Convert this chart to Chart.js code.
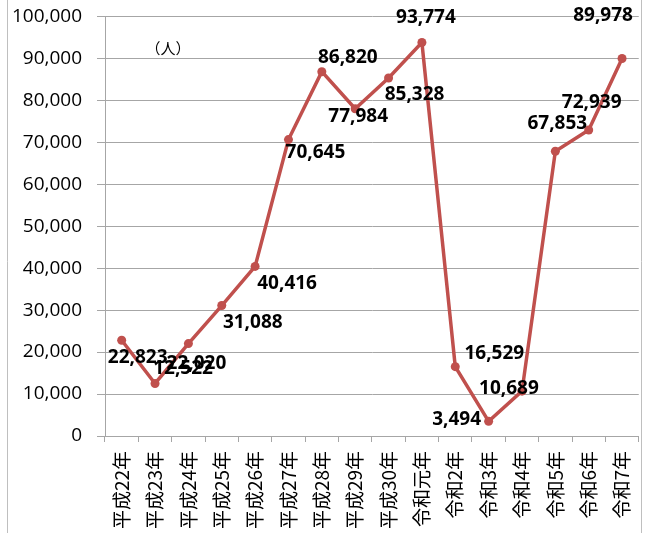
<!DOCTYPE html>
<html>
<head>
<meta charset="utf-8">
<script src="https://cdn.jsdelivr.net/npm/chart.js@4.4.1/dist/chart.umd.min.js"></script>
<style>
  html, body { margin: 0; padding: 0; background: #fff; }
  #frame { width: 646px; height: 533px; position: relative; overflow: hidden; }
  #wrap { width: 654px; height: 543px; position: absolute; left: 0; top: -10px; }
</style>
</head>
<body>
<div id="frame"><div id="wrap"><canvas id="visitorChart"></canvas></div></div>
<script>
// 年度
const years = ['平成22年', '平成23年', '平成24年', '平成25年', '平成26年', '平成27年', '平成28年', '平成29年',
               '平成30年', '令和元年', '令和2年', '令和3年', '令和4年', '令和5年', '令和6年', '令和7年'];
// 人数
const visitors = [22823, 12522, 22020, 31088, 40416, 70645, 86820, 77984,
                  85328, 93774, 16529, 3494, 10689, 67853, 72939, 89978];
// 目盛
const yTicks = [0, 10000, 20000, 30000, 40000, 50000, 60000, 70000, 80000, 90000, 100000];

// ラベルのずれ (px)
const labelShift = [[16, 17], [28, -15], [8, 20], [31, 17], [32, 17], [27, 13], [26, -14], [3, 8],
                    [26, 17], [4, -25], [39, -13], [-32, -2], [-13, -3], [2, -28], [3, -27], [-19, -43]];

const lineColor = '#C0504D';
const gridColor = '#A6A6A6';

const valueLabels = {
    id: 'valueLabels',
    afterDatasetsDraw(chart) {
        const ctx = chart.ctx;
        const meta = chart.getDatasetMeta(0);
        ctx.save();
        ctx.font = 'bold 19px "Open Sans"';
        ctx.fillStyle = '#000';
        ctx.textAlign = 'center';
        ctx.textBaseline = 'middle';
        meta.data.forEach((pt, i) => {
            const s = labelShift[i];
            ctx.fillText(visitors[i].toLocaleString('en-US'), pt.x + s[0], pt.y + s[1]);
        });
        // 単位
        ctx.font = '15px "Noto Sans CJK JP"';
        ctx.fillText('（人）', 168, 58);
        // 外枠
        ctx.strokeStyle = '#BFBFBF';
        ctx.lineWidth = 1;
        ctx.beginPath();
        ctx.moveTo(7.5, 0); ctx.lineTo(7.5, 543);
        ctx.moveTo(641.5, 0); ctx.lineTo(641.5, 543);
        ctx.stroke();
        ctx.restore();
    }
};

const ctx = document.getElementById('visitorChart').getContext('2d');
new Chart(ctx, {
    type: 'line',
    data: {
        labels: years,
        datasets: [{
            data: visitors,
            borderColor: lineColor,
            backgroundColor: lineColor,
            borderWidth: 3.5,
            pointRadius: 4.5,
            pointBackgroundColor: lineColor,
            pointBorderWidth: 0,
            tension: 0
        }]
    },
    options: {
        responsive: true,
        maintainAspectRatio: false,
        animation: false,
        layout: { padding: { left: 0, right: 2, top: 6, bottom: 0 } },
        plugins: {
            legend: { display: false },
            tooltip: { enabled: false }
        },
        scales: {
            x: {
                offset: true,
                grid: {
                    offset: true,
                    drawOnChartArea: false,
                    drawTicks: true,
                    tickLength: 6,
                    color: gridColor
                },
                border: { color: gridColor, width: 1 },
                ticks: {
                    maxRotation: 90,
                    minRotation: 90,
                    autoSkip: false,
                    padding: 9,
                    color: '#000',
                    font: { family: '"Noto Sans CJK JP"', size: 19 }
                },
                afterFit(scale) { scale.height = 97; }
            },
            y: {
                min: yTicks[0],
                max: yTicks[yTicks.length - 1],
                afterBuildTicks(scale) { scale.ticks = yTicks.map(v => ({ value: v })); },
                grid: { color: gridColor, tickLength: 8 },
                border: { color: gridColor, width: 1 },
                ticks: {
                    padding: 15,
                    color: '#000',
                    font: { family: '"Open Sans"', size: 19 },
                    callback: v => v.toLocaleString('en-US')
                },
                afterFit(scale) { scale.width = 105; }
            }
        }
    },
    plugins: [valueLabels]
});
</script>
</body>
</html>
